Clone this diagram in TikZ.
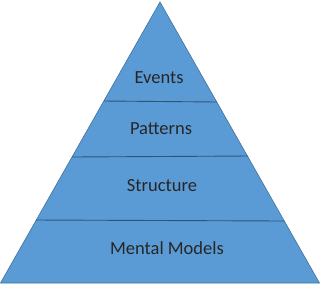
\documentclass[tikz,border=0pt]{standalone}
\usepackage{fontspec}
\setmainfont{Carlito}
\definecolor{pfill}{HTML}{5B9BD5}
\definecolor{pline}{HTML}{41719C}
\definecolor{pdiv}{HTML}{2E5478}
\begin{document}
\begin{tikzpicture}[x=1pt,y=-1pt,
  lbl/.style={font=\fontsize{18.5}{20}\selectfont, text=black!85, inner sep=0pt},
  divline/.style={draw=pdiv, line width=0.9pt}]
\useasboundingbox (0,0) rectangle (320,285);
\coordinate (top) at (160,2);
\coordinate (bl) at (0.5,283);
\coordinate (br) at (319.5,283);
\path[fill=pfill, draw=pline, line width=0.6pt] (top) -- (br) -- (bl) -- cycle;
\coordinate (l1) at (104,101);
\coordinate (r1) at (217,102);
\coordinate (l2) at (72,157);
\coordinate (r2) at (248,156);
\coordinate (l3) at (36,220);
\coordinate (r3) at (284,221);
\draw[divline] (l1) -- (r1);
\draw[divline] (l2) -- (r2);
\draw[divline] (l3) -- (r3);
\node[lbl] (events) at (159,78) {Events};
\node[lbl] (patterns) at (161,129) {Patterns};
\node[lbl] (structure) at (162,186) {Structure};
\node[lbl] (mental) at (167,248) {Mental Models};
\end{tikzpicture}
\end{document}
